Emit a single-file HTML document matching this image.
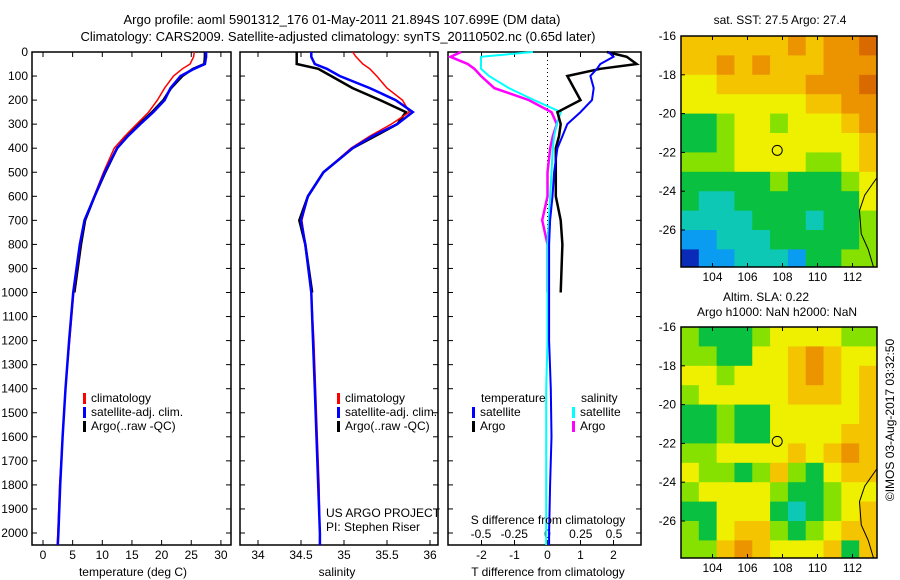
<!DOCTYPE html>
<html><head><meta charset="utf-8"><style>
body{margin:0;background:#fff;}
svg{display:block;font-family:"Liberation Sans",sans-serif;font-size:12px;}
</style></head><body>
<svg id="c" width="900" height="580" xmlns="http://www.w3.org/2000/svg">
<text x="342" y="24" text-anchor="middle" font-size="13">Argo profile: aoml 5901312_176 01-May-2011 21.894S 107.699E (DM data)</text>
<text x="338" y="41" text-anchor="middle" font-size="13">Climatology: CARS2009. Satellite-adjusted climatology: synTS_20110502.nc (0.65d later)</text>
<g id="g"></g>
<text x="780" y="24" text-anchor="middle">sat. SST: 27.5 Argo: 27.4</text>
<text x="766" y="301" text-anchor="middle">Altim. SLA: 0.22</text>
<text x="777" y="316" text-anchor="middle">Argo h1000: NaN h2000: NaN</text>
<text transform="translate(894,420) rotate(-90)" text-anchor="middle">©IMOS 03-Aug-2017 03:32:50</text>
<text x="133" y="576" text-anchor="middle">temperature (deg C)</text>
<text x="337" y="576" text-anchor="middle">salinity</text>
<text x="548" y="576" text-anchor="middle">T difference from climatology</text>
<text x="548" y="524" text-anchor="middle">S difference from climatology</text>
<text x="326" y="517">US ARGO PROJECT</text>
<text x="326" y="531">PI: Stephen Riser</text>
</svg>
<script>
// ---- data ----
const depthTicks=[0,100,200,300,400,500,600,700,800,900,1000,1100,1200,1300,1400,1500,1600,1700,1800,1900,2000];
const tTicks=[0,5,10,15,20,25,30];
const sTicks=[34,34.5,35,35.5,36];
const dtTicks=[-2,-1,0,1,2];
const dsTicks=[-0.5,-0.25,0,0.25,0.5];
const depths=[0,20,50,70,100,150,200,250,300,350,400,500,600,700,800,1000,1200,1400,1600,1800,2000,2050];
const tempClim=[25.5,25.4,24.8,23.5,22,20.5,19.3,17.8,15.8,13.8,12,10.2,8.6,7,6.3,5.2,4.5,3.8,3.3,2.8,2.5,2.4];
const tempSat=[27.5,27.5,27.3,25.5,23.2,21.5,20.5,18.6,16.4,14.3,12.5,10.4,8.7,7,6.2,5.1,4.4,3.8,3.3,2.9,2.6,2.5];
const tempArgo=[27.3,27.3,27.2,25.3,23.5,21.6,20.3,18.4,16.2,14.2,12.5,10.5,8.7,7.1,6.4,5.3];
const salClim=[35.1,35.14,35.22,35.3,35.38,35.5,35.68,35.76,35.55,35.3,35.08,34.76,34.58,34.51,34.55,34.62,34.65,34.67,34.69,34.71,34.72,34.72];
const salSat=[34.62,34.62,34.66,34.8,34.95,35.3,35.6,35.8,35.62,35.33,35.1,34.76,34.58,34.5,34.55,34.62,34.64,34.66,34.68,34.7,34.72,34.72];
const salArgo=[34.45,34.45,34.45,34.7,34.85,35.1,35.42,35.72,35.62,35.36,35.1,34.76,34.58,34.48,34.55,34.63];
const dtSat=[1.85,2.0,1.6,1.5,1.3,1.4,1.35,1.0,0.6,0.45,0.3,0.2,0.15,0.08,0.05,0.05,0.05,0.1,0.12,0.08,0.05,0.05];
const dtArgo=[1.8,2.4,2.7,1.6,0.6,0.8,1.0,0.3,0.4,0.35,0.25,0.25,0.25,0.4,0.45,0.4];
const dsSat=[-0.11,-0.5,-0.5,-0.5,-0.44,-0.29,-0.1,0.1,0.07,0.05,0.04,0.03,0.02,0.01,0.0,0.0,0,-0.01,-0.01,-0.01,-0.01,-0.01];
const dsArgo=[-0.65,-0.73,-0.6,-0.55,-0.5,-0.4,-0.14,0.03,0.07,0.04,0.02,0.0,0.0,-0.04,0.0,0.0];
const lonTicks=[104,106,108,110,112];
const latTicks=[-16,-18,-20,-22,-24,-26];
const sstGrid=[
[6,6,6,6,6,6,7,6,7,7,8],[6,6,7,6,7,6,6,6,7,7,7],[5,5,6,6,6,6,6,7,7,7,8],[5,5,5,5,5,5,5,6,6,7,7],
[3,3,4,5,5,4,5,5,5,6,7],[3,3,4,5,5,5,5,5,5,5,6],[4,4,4,5,5,5,5,4,4,5,6],[3,3,3,3,3,4,3,3,3,4,5],
[3,2,2,3,3,3,3,3,3,3,5],[2,2,2,2,3,3,3,2,3,3,4],[1,1,2,2,2,3,3,3,3,3,4],[0,1,1,2,2,2,1,3,3,4,4]];
const slaGrid=[
[4,3,3,3,4,5,5,5,5,4,4],[4,4,3,3,5,5,6,7,6,5,5],[5,5,4,5,5,5,6,7,6,5,6],[4,5,5,5,5,5,6,6,6,5,6],
[3,3,4,3,3,5,5,5,5,5,6],[3,3,4,3,3,5,5,5,5,6,6],[4,4,5,5,5,5,6,5,6,7,6],[5,4,4,3,4,6,4,3,5,6,6],
[4,5,5,5,5,4,3,3,4,5,5],[3,3,5,5,5,3,2,3,4,5,6],[4,3,5,6,6,4,3,4,5,6,6],[4,4,6,7,6,5,5,5,6,3,6]];
const argoLon=107.699, argoLat=-21.894;
// ---- helpers ----
const NS="http://www.w3.org/2000/svg", G=document.getElementById('g');
function el(t,a,p){const e=document.createElementNS(NS,t);for(const k in a)e.setAttribute(k,a[k]);(p||G).appendChild(e);return e;}
const yD=d=>52+d*0.2405;
const xT=v=>43+v*5.93, xS=v=>301+(v-34.5)*86, xDT=v=>547.5+v*33, xDS=v=>547.5+v*133;
const palette=['#0a2ab8','#0a9cf0','#0cc8b4','#0ac040','#86e000','#eef000','#f4c400','#ec9400','#d86a00'];
function frame(x0,x1,name){
  const r=el('rect',{x:x0,y:52,width:x1-x0,height:493,fill:'none',stroke:'#000','stroke-width':1.5});
  
  
  depthTicks.forEach(d=>{el('line',{x1:x0,x2:x0+5,y1:yD(d),y2:yD(d),stroke:'#000'});el('line',{x1:x1,x2:x1-5,y1:yD(d),y2:yD(d),stroke:'#000'});});
}
function xticks(arr,fx,y,name){arr.forEach(v=>{const x=fx(v);el('line',{x1:x,x2:x,y1:545,y2:540,stroke:'#000'});el('line',{x1:x,x2:x,y1:52,y2:57,stroke:'#000'});
  const t=el('text',{x:x,y:y,'text-anchor':'middle'});t.textContent=String(v);
  
  });}
function line(vals,fx,color,w,name){
  const pts=vals.map((v,i)=>fx(v).toFixed(1)+','+yD(depths[i]).toFixed(1)).join(' ');
  const p=el('polyline',{points:pts,fill:'none',stroke:color,'stroke-width':w});
  
  
}
function legend(x,y,items,name){items.forEach((it,i)=>{el('rect',{x:x,y:y+i*14-9,width:3,height:11,fill:it[1]});
  const t=el('text',{x:x+8,y:y+i*14});t.textContent=it[0];
  
  });}
// panels
frame(32,231,'temperature-panel');frame(240,438,'salinity-panel');frame(448,641,'difference-panel');
depthTicks.forEach(d=>{const t=el('text',{x:28,y:yD(d)+4,'text-anchor':'end'});t.textContent=d;
  
  });
xticks(tTicks,xT,559,'temperature-tick');xticks(sTicks,xS,559,'salinity-tick');xticks(dtTicks,xDT,559,'t-diff-tick');
dsTicks.forEach(v=>{const t=el('text',{x:xDS(v),y:538,'text-anchor':'middle'});t.textContent=String(v);
  
  });
el('line',{x1:xDT(0),x2:xDT(0),y1:52,y2:290,stroke:'#000','stroke-dasharray':'1,3'});
line(tempArgo,xT,'#000',2.5,'temperature-argo-line');line(tempClim,xT,'#f00',1.5,'temperature-climatology-line');line(tempSat,xT,'#00f',2.5,'temperature-satellite-line');
line(salArgo,xS,'#000',2.5,'salinity-argo-line');line(salClim,xS,'#f00',1.5,'salinity-climatology-line');line(salSat,xS,'#00f',2.5,'salinity-satellite-line');
line(dsArgo,xDS,'#f0f',2.5,'s-diff-argo-line');line(dsSat,xDS,'#0ff',2,'s-diff-satellite-line');
line(dtArgo,xDT,'#000',2.5,'t-diff-argo-line');line(dtSat,xDT,'#00f',2,'t-diff-satellite-line');
legend(83,402,[['climatology','#f00'],['satellite-adj. clim.','#00f'],['Argo(..raw -QC)','#000']],'temperature-legend');
legend(337,402,[['climatology','#f00'],['satellite-adj. clim.','#00f'],['Argo(..raw -QC)','#000']],'salinity-legend');
const th=el('text',{x:481,y:402});th.textContent='temperature';


const sh=el('text',{x:581,y:402});sh.textContent='salinity';


legend(472,416,[['satellite','#00f'],['Argo','#000']],'t-diff-legend');
legend(572,416,[['satellite','#0ff'],['Argo','#f0f']],'s-diff-legend');
// maps
function map(top,grid,name){
  const L=681,R=877,B=top+231,lon0=102.2,lon1=113.4;
  const xL=v=>L+(v-lon0)*(R-L)/(lon1-lon0), yL=v=>top+(-16-v)*19.4;
  const g=el('g',{});
  
  
  const cw=(R-L)/grid[0].length;
  grid.forEach((row,r)=>row.forEach((c,k)=>{const y0=top+r*19.4;el('rect',{x:L+k*cw,y:y0,width:cw+0.5,height:Math.min(19.9,B-y0),fill:palette[c]},g);}));
  el('path',{d:`M${R} ${yL(-23.3)} L${xL(112.7)} ${yL(-24.2)} L${xL(112.4)} ${yL(-25)} L${xL(112.5)} ${yL(-26.2)} L${xL(112.9)} ${yL(-27)} L${xL(113.2)} ${B}`,fill:'none',stroke:'#000'},g);
  el('rect',{x:L,y:top,width:R-L,height:B-top,fill:'none',stroke:'#000','stroke-width':1.5},g);
  el('circle',{cx:xL(argoLon),cy:yL(argoLat),r:5,fill:'none',stroke:'#000'},g);
  lonTicks.forEach(v=>{el('line',{x1:xL(v),x2:xL(v),y1:B,y2:B-4,stroke:'#000'},g);el('line',{x1:xL(v),x2:xL(v),y1:top,y2:top+4,stroke:'#000'},g);
    const t=el('text',{x:xL(v),y:B+14,'text-anchor':'middle'},g);t.textContent=v;
    
    });
  latTicks.forEach(v=>{el('line',{x1:L,x2:L+4,y1:yL(v),y2:yL(v),stroke:'#000'},g);
    const t=el('text',{x:L-5,y:yL(v)+4,'text-anchor':'end'},g);t.textContent=v;
    
    });
}
map(36,sstGrid,'sst-map');map(327,slaGrid,'sla-map');
</script>
</body></html>
